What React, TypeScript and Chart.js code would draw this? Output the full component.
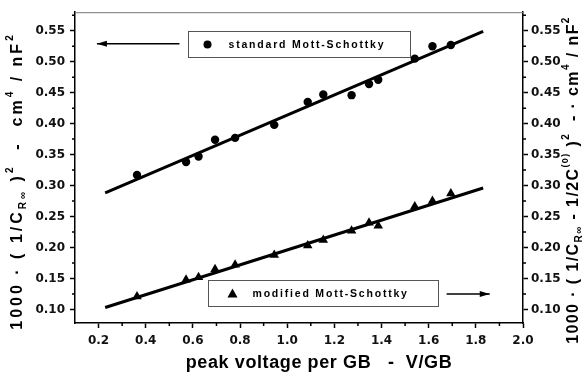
import React, { useEffect, useRef } from 'react';
import { Chart, registerables } from 'chart.js';

Chart.register(...registerables);

// ---- data ----
const peakVoltage = [0.363, 0.571, 0.624, 0.694, 0.779, 0.945, 1.087, 1.153, 1.273, 1.347, 1.386, 1.541, 1.616, 1.694];
const standardMS = [0.317, 0.338, 0.347, 0.374, 0.377, 0.398, 0.435, 0.447, 0.446, 0.464, 0.471, 0.505, 0.525, 0.527];
const modifiedMS = [0.121, 0.148, 0.152, 0.165, 0.172, 0.188, 0.203, 0.212, 0.227, 0.240, 0.235, 0.266, 0.275, 0.287];
const fitX = [0.228, 1.831];
const fitStandard = [0.288, 0.549];
const fitModified = [0.103, 0.296];
const xTicks = [0.2, 0.4, 0.6, 0.8, 1.0, 1.2, 1.4, 1.6, 1.8, 2.0];
const xMinorTicks = [0.3, 0.5, 0.7, 0.9, 1.1, 1.3, 1.5, 1.7, 1.9];
const yTicks = [0.10, 0.15, 0.20, 0.25, 0.30, 0.35, 0.40, 0.45, 0.50, 0.55];
const yMinorTicks = [0.125, 0.175, 0.225, 0.275, 0.325, 0.375, 0.425, 0.475, 0.525, 0.575];
const legendStandard = 'standard Mott-Schottky';
const legendModified = 'modified Mott-Schottky';
const xTitle = 'peak voltage per GB   -  V/GB';

type Seg = { t: string; s: number; dy: number };
const leftTitle: Seg[] = [
  { t: '1000 · ( 1/C', s: 16, dy: 0 },
  { t: 'R∞', s: 10, dy: 5 },
  { t: ' )', s: 16, dy: 0 },
  { t: '2', s: 10, dy: -8 },
  { t: '  -  cm', s: 16, dy: 0 },
  { t: '4', s: 10, dy: -8 },
  { t: ' / nF', s: 16, dy: 0 },
  { t: '2', s: 10, dy: -8 },
];
const rightTitle: Seg[] = [
  { t: '1000 · ( 1/C', s: 16, dy: 0 },
  { t: 'R∞', s: 10, dy: 5 },
  { t: ' - 1/2C', s: 16, dy: 0 },
  { t: '(0)', s: 9, dy: -8 },
  { t: ' )', s: 16, dy: 0 },
  { t: '2', s: 10, dy: -8 },
  { t: '  - · cm', s: 16, dy: 0 },
  { t: '4', s: 10, dy: -8 },
  { t: ' / nF', s: 16, dy: 0 },
  { t: '2', s: 10, dy: -8 },
];

const FAMILY = '"Liberation Sans", Arial, sans-serif';
const TICK_FAMILY = '"DejaVu Sans", sans-serif';

function drawRich(ctx: CanvasRenderingContext2D, segs: Seg[], cx: number, cy: number, angle: number, spacing: string) {
  ctx.save();
  ctx.translate(cx, cy);
  ctx.rotate(angle);
  ctx.textBaseline = 'middle';
  ctx.textAlign = 'left';
  (ctx as any).letterSpacing = spacing;
  let w = 0;
  for (const s of segs) {
    ctx.font = `bold ${s.s}px ${FAMILY}`;
    w += ctx.measureText(s.t).width;
  }
  let x = -w / 2;
  ctx.fillStyle = '#000';
  for (const s of segs) {
    ctx.font = `bold ${s.s}px ${FAMILY}`;
    ctx.fillText(s.t, x, s.dy);
    x += ctx.measureText(s.t).width;
  }
  ctx.restore();
}

const decorPlugin = {
  id: 'decor',
  afterDraw(chart: any) {
    const ctx: CanvasRenderingContext2D = chart.ctx;
    const xs = chart.scales.x;
    const ys = chart.scales.y;
    const ca = chart.chartArea;
    ctx.save();
    // top border
    ctx.strokeStyle = '#777';
    ctx.lineWidth = 1;
    ctx.beginPath();
    ctx.moveTo(ca.left, ca.top + 0.5);
    ctx.lineTo(ca.right, ca.top + 0.5);
    ctx.stroke();
    // minor ticks
    ctx.strokeStyle = '#000';
    ctx.lineWidth = 1.5;
    ctx.beginPath();
    for (const v of xMinorTicks) {
      const px = xs.getPixelForValue(v);
      ctx.moveTo(px, ca.bottom);
      ctx.lineTo(px, ca.bottom + 3);
    }
    for (const v of yMinorTicks) {
      const py = ys.getPixelForValue(v);
      ctx.moveTo(ca.left, py);
      ctx.lineTo(ca.left - 3, py);
      ctx.moveTo(ca.right, py);
      ctx.lineTo(ca.right + 3, py);
    }
    ctx.stroke();

    // legend boxes
    const box = (x0: number, x1: number, y0: number, y1: number) => {
      const l = Math.round(xs.getPixelForValue(x0)) + 0.5;
      const r = Math.round(xs.getPixelForValue(x1)) + 0.5;
      const t = Math.round(ys.getPixelForValue(y0)) + 0.5;
      const b = Math.round(ys.getPixelForValue(y1)) + 0.5;
      ctx.fillStyle = '#fff';
      ctx.fillRect(l, t, r - l, b - t);
      ctx.strokeStyle = '#555';
      ctx.lineWidth = 1;
      ctx.strokeRect(l, t, r - l, b - t);
      return { l, r, t, b };
    };
    const b1 = box(0.581, 1.520, 0.549, 0.508);
    const b2 = box(0.663, 1.640, 0.148, 0.106);

    ctx.fillStyle = '#000';
    ctx.font = `bold 10.5px ${FAMILY}`;
    (ctx as any).letterSpacing = '1.8px';
    ctx.textBaseline = 'middle';
    ctx.textAlign = 'left';
    // marker standard
    const cy1 = (b1.t + b1.b) / 2;
    ctx.beginPath();
    ctx.arc(b1.l + 19, cy1, 4, 0, Math.PI * 2);
    ctx.fill();
    ctx.fillText(legendStandard, b1.l + 40, cy1 + 0.5);
    // marker modified
    const cy2 = (b2.t + b2.b) / 2;
    const tx = b2.l + 24;
    ctx.beginPath();
    ctx.moveTo(tx, cy2 - 5);
    ctx.lineTo(tx + 5, cy2 + 4);
    ctx.lineTo(tx - 5, cy2 + 4);
    ctx.closePath();
    ctx.fill();
    ctx.fillText(legendModified, b2.l + 44, cy2 + 0.5);
    (ctx as any).letterSpacing = '0px';

    // arrows
    const arrow = (xa: number, xb: number, yv: number, dir: number) => {
      const a = xs.getPixelForValue(xa);
      const bpx = xs.getPixelForValue(xb);
      const py = ys.getPixelForValue(yv);
      ctx.strokeStyle = '#000';
      ctx.lineWidth = 1.5;
      ctx.beginPath();
      ctx.moveTo(a, py);
      ctx.lineTo(bpx, py);
      ctx.stroke();
      const tip = dir < 0 ? a : bpx;
      ctx.beginPath();
      ctx.moveTo(tip, py);
      ctx.lineTo(tip - dir * 10, py - 3);
      ctx.lineTo(tip - dir * 10, py + 3);
      ctx.closePath();
      ctx.fill();
    };
    arrow(0.193, 0.543, 0.529, -1);
    arrow(1.676, 1.859, 0.125, 1);

    // x title
    ctx.font = `bold 18px ${FAMILY}`;
    (ctx as any).letterSpacing = '0.6px';
    ctx.textAlign = 'center';
    ctx.textBaseline = 'middle';
    ctx.fillText(xTitle, 319, 363);
    (ctx as any).letterSpacing = '0px';
    ctx.restore();

    // y titles
    drawRich(ctx, leftTitle, 18, 181, -Math.PI / 2, '3px');
    drawRich(ctx, rightTitle, 574, 180, -Math.PI / 2, '1.4px');
  },
};

export default function App() {
  const ref = useRef<HTMLCanvasElement | null>(null);
  useEffect(() => {
    document.body.style.margin = '0';
    const canvas = ref.current;
    if (!canvas) return;
    const tickFont = { family: TICK_FAMILY, size: 12, weight: 'bold' as const };
    const yScale = (pos: 'left' | 'right', width: number) => ({
      type: 'linear' as const,
      position: pos,
      min: 0.078,
      max: 0.58,
      afterBuildTicks: (s: any) => {
        s.ticks = yTicks.map((v) => ({ value: v }));
      },
      afterFit: (s: any) => {
        s.width = width;
      },
      ticks: {
        callback: (v: any) => Number(v).toFixed(2),
        font: tickFont,
        color: '#111',
        padding: pos === 'left' ? 5 : 3,
      },
      grid: { display: true, drawOnChartArea: false, drawTicks: true, tickLength: 5, color: '#000', tickWidth: 1.5 },
      border: { display: true, color: '#000', width: 1.5 },
      title: { display: false },
    });
    const chart = new Chart(canvas, {
      type: 'scatter',
      data: {
        datasets: [
          {
            label: legendStandard,
            data: peakVoltage.map((x, i) => ({ x, y: standardMS[i] })),
            yAxisID: 'y',
            pointStyle: 'circle',
            pointRadius: 4.2,
            backgroundColor: '#000',
            borderColor: '#000',
            borderWidth: 0,
            showLine: false,
          },
          {
            label: legendModified,
            data: peakVoltage.map((x, i) => ({ x, y: modifiedMS[i] })),
            yAxisID: 'y1',
            pointStyle: 'triangle',
            pointRadius: 5.5,
            backgroundColor: '#000',
            borderColor: '#000',
            borderWidth: 0,
            showLine: false,
          },
          {
            label: 'fit standard',
            data: fitX.map((x, i) => ({ x, y: fitStandard[i] })),
            yAxisID: 'y',
            showLine: true,
            borderColor: '#000',
            borderWidth: 3,
            pointRadius: 0,
          },
          {
            label: 'fit modified',
            data: fitX.map((x, i) => ({ x, y: fitModified[i] })),
            yAxisID: 'y1',
            showLine: true,
            borderColor: '#000',
            borderWidth: 3,
            pointRadius: 0,
          },
        ],
      },
      options: {
        animation: false,
        responsive: false,
        layout: { padding: { top: 11, left: 0, right: 0, bottom: 0 } },
        plugins: { legend: { display: false }, tooltip: { enabled: false } },
        scales: {
          x: {
            type: 'linear',
            min: 0.1,
            max: 2.0,
            afterBuildTicks: (s: any) => {
              s.ticks = xTicks.map((v) => ({ value: v }));
            },
            afterFit: (s: any) => {
              s.height = 51;
            },
            ticks: {
              callback: (v: any) => Number(v).toFixed(1),
              font: tickFont,
              color: '#111',
              padding: 6,
              maxRotation: 0,
            },
            grid: { display: true, drawOnChartArea: false, drawTicks: true, tickLength: 5, color: '#000', tickWidth: 1.5 },
            border: { display: true, color: '#000', width: 1.5 },
          },
          y: yScale('left', 75),
          y1: yScale('right', 65),
        },
      },
      plugins: [decorPlugin],
    });
    return () => chart.destroy();
  }, []);
  return (
    <div style={{ width: 588, height: 374, background: '#fff' }}>
      <canvas ref={ref} width={588} height={374} />
    </div>
  );
}
